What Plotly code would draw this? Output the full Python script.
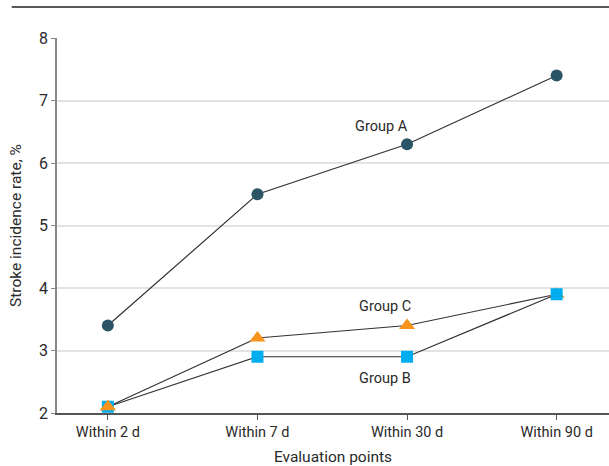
import plotly.graph_objects as go

categories = ["Within 2 d", "Within 7 d", "Within 30 d", "Within 90 d"]
group_a = [3.4, 5.5, 6.3, 7.4]
group_b = [2.1, 2.9, 2.9, 3.9]
group_c = [2.1, 3.2, 3.4, 3.9]
y_ticks = [2, 3, 4, 5, 6, 7, 8]

FONT = "Roboto"
TXT = "#2a2a2a"
LINE = "#333333"

fig = go.Figure()
fig.add_trace(go.Scatter(x=categories, y=group_a, mode="lines+markers",
                         line=dict(color=LINE, width=1.2),
                         marker=dict(symbol="circle", size=12, color="#2b5566"),
                         name="Group A"))
fig.add_trace(go.Scatter(x=categories, y=group_c, mode="lines+markers",
                         line=dict(color=LINE, width=1.2),
                         marker=dict(symbol="triangle-up", size=14, color="#f7941d"),
                         name="Group C"))
fig.add_trace(go.Scatter(x=categories, y=group_b, mode="lines+markers",
                         line=dict(color=LINE, width=1.2),
                         marker=dict(symbol="square", size=12, color="#00aeef"),
                         name="Group B"))
# triangle drawn on top at first point (as in the reference)
fig.add_trace(go.Scatter(x=categories[:1], y=group_c[:1], mode="markers",
                         marker=dict(symbol="triangle-up", size=14, color="#f7941d"),
                         showlegend=False))

fig.add_annotation(x=1.83, y=6.58, text="Group A", showarrow=False,
                   font=dict(family=FONT, size=14.5, color=TXT))
fig.add_annotation(x=1.85, y=3.71, text="Group C", showarrow=False,
                   font=dict(family=FONT, size=14.5, color=TXT))
fig.add_annotation(x=1.85, y=2.55, text="Group B", showarrow=False,
                   font=dict(family=FONT, size=14.5, color=TXT))

fig.add_shape(type="line", xref="paper", yref="paper", x0=-0.082, x1=1.0,
              y0=1.083, y1=1.083, line=dict(color="#222222", width=1.5))

fig.update_layout(
    width=609, height=466,
    margin=dict(l=57, r=0, t=38, b=53, autoexpand=False),
    plot_bgcolor="white", paper_bgcolor="white",
    showlegend=False,
    font=dict(family=FONT, size=14, color=TXT),
    xaxis=dict(
        type="category", range=[-0.34, 3.35], automargin=False,
        showgrid=False, showline=True, linecolor="#555555", linewidth=1.5,
        ticks="outside", ticklen=5, tickcolor="#555555",
        tickfont=dict(family=FONT, size=14.5, color=TXT),
        title=dict(text="Evaluation points",
                   font=dict(family=FONT, size=15.5, color=TXT)),
        zeroline=False,
    ),
    yaxis=dict(
        range=[2, 8], tickvals=y_ticks, automargin=False,
        showgrid=True, gridcolor="#e3e3e3", gridwidth=1.5,
        showline=True, linecolor="#888888", linewidth=1.5,
        ticks="outside", ticklen=4, tickcolor="#888888",
        tickfont=dict(family=FONT, size=16, color=TXT),
        title=dict(text="Stroke incidence rate, %", standoff=14,
                   font=dict(family=FONT, size=15.5, color=TXT)),
        zeroline=False,
    ),
)

fig.write_html("out.html", config={"displayModeBar": False},
               post_script="document.body.style.margin='0px';document.body.style.overflow='hidden';")
